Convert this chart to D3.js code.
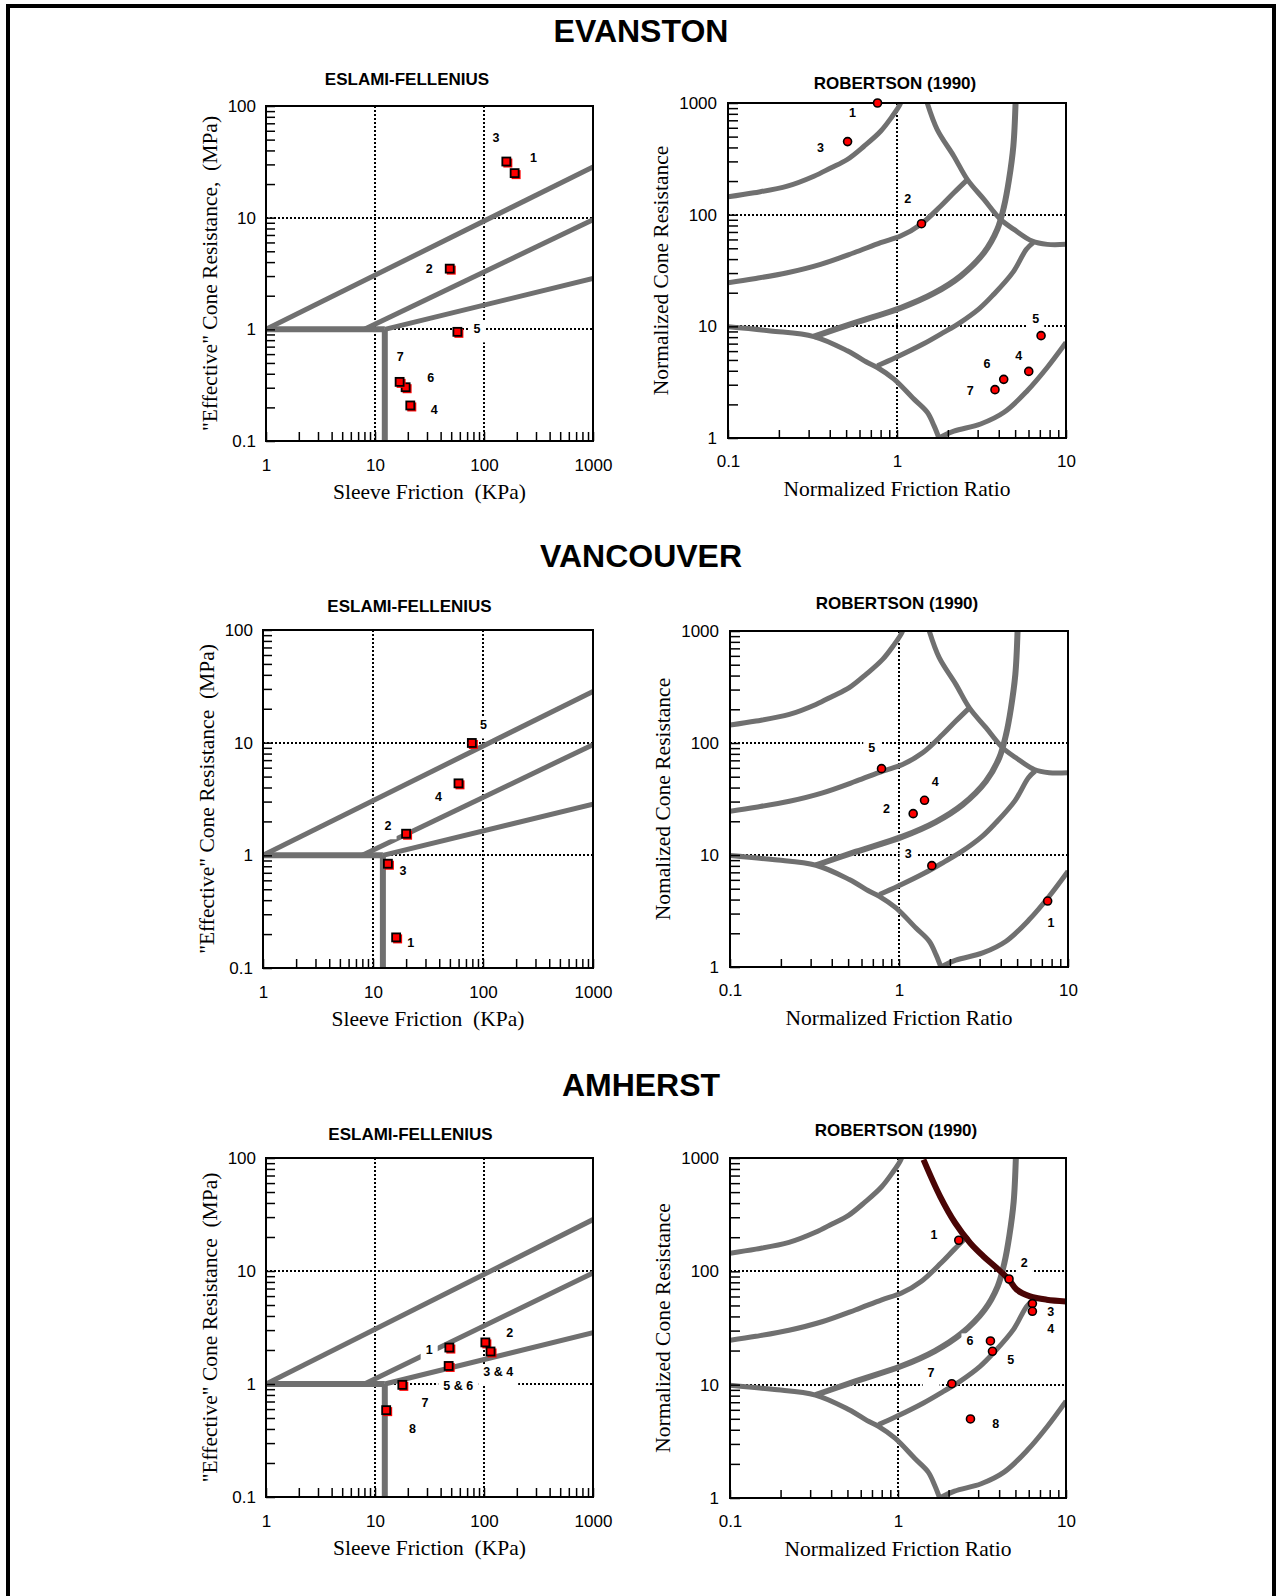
<!DOCTYPE html>
<html>
<head>
<meta charset="utf-8">
<script src="https://cdn.jsdelivr.net/npm/d3@7"></script>
<style>
  body { margin: 0; background: #fff; }
  svg { display: block; }
  text { font-family: "Liberation Sans", Arial, sans-serif; }
  .serif { font-family: "Liberation Serif", "Times New Roman", serif; white-space: pre; }
</style>
</head>
<body>
<div id="chart"></div>
<script>
// axis ticks
const efXTicks = [1, 10, 100, 1000];
const efYTicks = [0.1, 1, 10, 100];
const efGridX = [10, 100];
const efGridY = [1, 10];
const rXTicks = [0.1, 1, 10];
const rYTicks = [1, 10, 100, 1000];
const rGridX = [1];
const rGridY = [10, 100];

const stations = ['EVANSTON', 'VANCOUVER', 'AMHERST'];

// Eslami-Fellenius zone boundaries [sleeve friction kPa, qE MPa]
const efBoundaries = [
  [[1, 1], [1000, 28.5]],
  [[8, 1], [1000, 9.6]],
  [[12.3, 1], [1000, 2.85]],
  [[1, 1], [12.3, 1]],
  [[12.3, 1], [12.3, 0.1]]
];

// Robertson (1990) zone boundaries [norm. friction ratio, norm. cone resistance]
const rCurve1 = [[0.1, 144.5], [0.1426, 157], [0.2244, 180], [0.3224, 221], [0.405, 262], [0.508, 312], [0.638, 410], [0.8, 558], [0.938, 760], [1.027, 933], [1.05, 1000]];
const rCurve2 = [[0.1, 24.6], [0.1426, 26.7], [0.2244, 30.2], [0.353, 35.9], [0.5565, 45.6], [0.8, 56.1], [1.05, 64.3], [1.38, 81.8], [1.81, 119], [2.17, 157], [2.61, 206]];
const rCurve3 = [[0.3224, 8.1], [0.5565, 10.7], [1.05, 14.6], [1.655, 19.8], [2.38, 28.2], [3.27, 45.6], [3.92, 73.8], [4.3, 119], [4.6, 206], [4.88, 410], [5.03, 1000]];
const rCurve4 = [[0.1, 9.9], [0.1787, 9.1], [0.3224, 8.1], [0.508, 6.04], [0.6675, 4.75], [0.765, 4.28], [0.96, 3.37], [1.26, 2.23], [1.51, 1.7], [1.655, 1.29], [1.77, 1.0]];
const rCurve5 = [[0.766, 4.44], [0.984, 5.26], [1.418, 6.9], [1.865, 8.73], [2.34, 10.7], [3.08, 14.5], [3.7, 19.05], [4.86, 30.6], [5.83, 49], [6.4, 56.2]];
const rCurve6 = [[1.51, 1000], [1.73, 578], [2.17, 334], [2.61, 206], [3.27, 137], [4.1, 90.7], [4.92, 73.8], [6.31, 58], [7.74, 54.2], [10, 54.2]];
const rCurve7 = [[1.77, 1.0], [2.17, 1.15], [3.125, 1.335], [4.3, 1.7], [5.9, 2.65], [7.74, 4.28], [10, 7.16]];
const amherstLimit = [[1.418, 967], [1.78, 459], [2.19, 267], [2.69, 178], [3.22, 136], [3.87, 107], [4.58, 84.4], [5.09, 68.9], [6.11, 60.2], [7.67, 56.2], [10, 54.3]];

// points: n = label, x/y = value, lx/ly = where the label sits
const evanstonEF = [
  { n: '1', x: 193, y: 24.8, lx: 285, ly: 34.5 },
  { n: '2', x: 49, y: 3.46, lx: 31.4, ly: 3.5 },
  { n: '3', x: 162, y: 31.5, lx: 129, ly: 52 },
  { n: '4', x: 21.3, y: 0.206, lx: 34.9, ly: 0.192 },
  { n: '5', x: 57.6, y: 0.94, lx: 86, ly: 1.02 },
  { n: '6', x: 19.3, y: 0.3, lx: 32.5, ly: 0.371 },
  { n: '7', x: 17, y: 0.335, lx: 17, ly: 0.568 }
];
const evanstonR = [
  { n: '1', x: 0.767, y: 1000, lx: 0.546, ly: 819 },
  { n: '2', x: 1.396, y: 83, lx: 1.159, ly: 141 },
  { n: '3', x: 0.51, y: 451, lx: 0.353, ly: 398 },
  { n: '4', x: 6.02, y: 3.95, lx: 5.25, ly: 5.5 },
  { n: '5', x: 7.12, y: 8.25, lx: 6.62, ly: 11.7 },
  { n: '6', x: 4.28, y: 3.35, lx: 3.41, ly: 4.63 },
  { n: '7', x: 3.8, y: 2.71, lx: 2.71, ly: 2.64 }
];
const vancouverEF = [
  { n: '1', x: 16.4, y: 0.185, lx: 22, ly: 0.167 },
  { n: '2', x: 20.2, y: 1.54, lx: 13.7, ly: 1.85 },
  { n: '3', x: 13.8, y: 0.834, lx: 18.7, ly: 0.728 },
  { n: '4', x: 60.5, y: 4.31, lx: 39.3, ly: 3.31 },
  { n: '5', x: 80, y: 9.84, lx: 101, ly: 14.5 }
];
const vancouverR = [
  { n: '1', x: 7.58, y: 3.88, lx: 7.93, ly: 2.49 },
  { n: '2', x: 1.213, y: 23.4, lx: 0.843, ly: 25.9 },
  { n: '3', x: 1.564, y: 8.03, lx: 1.133, ly: 10.3 },
  { n: '4', x: 1.416, y: 30.8, lx: 1.637, ly: 45.5 },
  { n: '5', x: 0.788, y: 59, lx: 0.69, ly: 90.9 }
];
const amherstEF = [
  { n: '1', x: 48.6, y: 2.08, lx: 31.4, ly: 2.04 },
  { n: '2', x: 104, y: 2.31, lx: 172, ly: 2.83 },
  { n: '3 & 4', x: 116, y: 1.92, lx: 135, ly: 1.29 },
  { n: '5 & 6', x: 47.9, y: 1.43, lx: 58, ly: 0.966 },
  { n: '7', x: 18.0, y: 0.973, lx: 28.7, ly: 0.68 },
  { n: '8', x: 12.8, y: 0.581, lx: 22.1, ly: 0.40 }
];
const amherstR = [
  { n: '1', x: 2.3, y: 188, lx: 1.64, ly: 211 },
  { n: '2', x: 4.58, y: 85.6, lx: 5.65, ly: 118.6 },
  { n: '3', x: 6.31, y: 51.9, lx: 8.11, ly: 43.8 },
  { n: '4', x: 6.31, y: 44.4, lx: 8.11, ly: 31 },
  { n: '5', x: 3.65, y: 19.7, lx: 4.69, ly: 16.6 },
  { n: '6', x: 3.55, y: 24.3, lx: 2.68, ly: 24.6 },
  { n: '7', x: 2.09, y: 10.2, lx: 1.574, ly: 12.7 },
  { n: '8', x: 2.7, y: 4.98, lx: 3.82, ly: 4.53 }
];

const GRAY = '#707070';
const W = 1276, H = 1596;

const svg = d3.select('#chart').append('svg')
  .attr('width', W)
  .attr('height', H);

// page border (open at the bottom)
svg.append('path')
  .attr('d', `M8,${H} V6 H1274 V${H}`)
  .attr('fill', 'none')
  .attr('stroke', '#000')
  .attr('stroke-width', 4);

const rowTitleY = [41.5, 567, 1096];
stations.forEach((s, i) => {
  svg.append('text')
    .attr('x', 641)
    .attr('y', rowTitleY[i])
    .attr('text-anchor', 'middle')
    .attr('font-size', '32px')
    .attr('font-weight', 'bold')
    .text(s);
});

let clipCount = 0;

function drawPanel(o) {
  const f = o.frame;
  const x = d3.scaleLog().domain(o.xDomain).range([f.x0, f.x1]);
  const y = d3.scaleLog().domain(o.yDomain).range([f.y1, f.y0]);
  const g = svg.append('g');
  const clipId = 'clip' + (clipCount++);

  g.append('clipPath').attr('id', clipId)
    .append('rect')
    .attr('x', f.x0).attr('y', f.y0)
    .attr('width', f.x1 - f.x0).attr('height', f.y1 - f.y0);

  // title
  g.append('text')
    .attr('x', o.titleX)
    .attr('y', o.titleY)
    .attr('text-anchor', 'middle')
    .attr('font-size', '17px')
    .attr('font-weight', 'bold')
    .text(o.title);

  // dotted grid
  const grid = g.append('g')
    .attr('stroke', '#000')
    .attr('stroke-width', 1.6)
    .attr('stroke-dasharray', '2,2')
    .attr('shape-rendering', 'crispEdges');
  o.gridX.forEach(v => {
    const px = Math.round(x(v));
    grid.append('line').attr('x1', px).attr('x2', px).attr('y1', f.y0).attr('y2', f.y1);
  });
  o.gridY.forEach(v => {
    const py = Math.round(y(v));
    grid.append('line').attr('x1', f.x0).attr('x2', f.x1).attr('y1', py).attr('y2', py);
  });

  // zone boundaries
  const lines = g.append('g').attr('clip-path', `url(#${clipId})`);
  o.lines.forEach(l => {
    const line = d3.line()
      .x(d => x(d[0]))
      .y(d => y(d[1]))
      .curve(l.pts.length > 2 ? d3.curveCatmullRom.alpha(0.5) : d3.curveLinear);
    lines.append('path')
      .attr('d', line(l.pts))
      .attr('fill', 'none')
      .attr('stroke', l.color || GRAY)
      .attr('stroke-width', l.width || 5)
      .attr('stroke-linejoin', 'round');
  });

  // frame
  g.append('rect')
    .attr('x', f.x0).attr('y', f.y0)
    .attr('width', f.x1 - f.x0).attr('height', f.y1 - f.y0)
    .attr('fill', 'none')
    .attr('stroke', '#000')
    .attr('stroke-width', 2);

  // inward ticks
  const bx = g.append('g')
    .attr('transform', `translate(0,${f.y1})`)
    .call(d3.axisBottom(x).tickValues(x.ticks()).tickSize(-o.tickLenX).tickFormat(''));
  const ly = g.append('g')
    .attr('transform', `translate(${f.x0},0)`)
    .call(d3.axisLeft(y).tickValues(y.ticks()).tickSize(-o.tickLenY).tickFormat(''));
  [bx, ly].forEach(a => {
    a.select('.domain').remove();
    a.selectAll('line').attr('stroke', '#000').attr('stroke-width', 1.5);
  });

  // tick labels
  const xl = g.append('g')
    .attr('transform', `translate(0,${f.y1})`)
    .call(d3.axisBottom(x).tickValues(o.xTicks).tickSize(0).tickPadding(o.xPad).tickFormat(d => String(d)));
  const yl = g.append('g')
    .attr('transform', `translate(${f.x0},0)`)
    .call(d3.axisLeft(y).tickValues(o.yTicks).tickSize(0).tickPadding(o.yPad).tickFormat(d => String(d)));
  [xl, yl].forEach(a => {
    a.select('.domain').remove();
    a.selectAll('text')
      .attr('font-size', '17px')
      .attr('font-family', '"Liberation Sans", Arial, sans-serif')
      .attr('fill', '#000');
  });

  // axis titles
  g.append('text')
    .attr('class', 'serif')
    .attr('x', (f.x0 + f.x1) / 2)
    .attr('y', f.y1 + 58)
    .attr('text-anchor', 'middle')
    .attr('font-size', '21.5px')
    .text(o.xLabel);
  g.append('text')
    .attr('class', 'serif')
    .attr('transform', `translate(${f.x0 - o.yLabelOff},${(f.y0 + f.y1) / 2}) rotate(-90)`)
    .attr('text-anchor', 'middle')
    .attr('font-size', '21.5px')
    .text(o.yLabel);

  // point labels with white boxes
  const labels = g.append('g');
  o.points.forEach(p => {
    const lg = labels.append('g');
    const t = lg.append('text')
      .attr('x', x(p.lx))
      .attr('y', y(p.ly))
      .attr('dy', '0.36em')
      .attr('text-anchor', 'middle')
      .attr('font-size', '12.5px')
      .attr('font-weight', 'bold')
      .text(p.n);
    const bb = t.node().getBBox();
    lg.insert('rect', 'text')
      .attr('x', bb.x - 5)
      .attr('y', y(p.ly) - 7)
      .attr('width', bb.width + 10)
      .attr('height', 21)
      .attr('fill', '#fff');
  });

  // markers
  const marks = g.append('g');
  o.points.forEach(p => {
    const cx = x(p.x), cy = y(p.y);
    if (o.marker === 'square') {
      marks.append('rect')
        .attr('x', cx - 3.5).attr('y', cy - 3.5)
        .attr('width', 9).attr('height', 9)
        .attr('fill', '#ff0000');
      marks.append('rect')
        .attr('x', cx - 4.5).attr('y', cy - 4.5)
        .attr('width', 8).attr('height', 8)
        .attr('fill', '#ff0000')
        .attr('stroke', '#000')
        .attr('stroke-width', 1.8);
    } else {
      marks.append('circle')
        .attr('cx', cx).attr('cy', cy)
        .attr('r', 4)
        .attr('fill', '#ff0000')
        .attr('stroke', '#000')
        .attr('stroke-width', 1.6);
    }
  });
}

const efFrames = [
  { x0: 266, x1: 593, y0: 106, y1: 441 },
  { x0: 263, x1: 593, y0: 630, y1: 968 },
  { x0: 266, x1: 593, y0: 1158, y1: 1497 }
];
const rFrames = [
  { x0: 728, x1: 1066, y0: 103, y1: 438 },
  { x0: 730, x1: 1068, y0: 631, y1: 967 },
  { x0: 730, x1: 1066, y0: 1158, y1: 1498 }
];
const efTitlePos = [[407, 85], [409.5, 612], [410.5, 1140]];
const rTitlePos = [[895, 89], [897, 609], [896, 1136]];

const efPoints = [evanstonEF, vancouverEF, amherstEF];
const rPoints = [evanstonR, vancouverR, amherstR];
const efYLabels = ['"Effective" Cone Resistance,  (MPa)', '"Effective" Cone Resistance  (MPa)', '"Effective" Cone Resistance  (MPa)'];
const rYLabels = ['Normalized Cone Resistance', 'Nomalized Cone Resistance', 'Normalized Cone Resistance'];

for (let i = 0; i < 3; i++) {
  drawPanel({
    frame: efFrames[i],
    xDomain: [1, 1000], yDomain: [0.1, 100],
    xTicks: efXTicks, yTicks: efYTicks,
    gridX: efGridX, gridY: efGridY,
    lines: efBoundaries.map((pts, k) => ({ pts, width: k >= 3 ? 6 : 5 })),
    points: efPoints[i],
    marker: 'square',
    title: 'ESLAMI-FELLENIUS',
    titleX: efTitlePos[i][0], titleY: efTitlePos[i][1],
    xLabel: 'Sleeve Friction  (KPa)',
    yLabel: efYLabels[i],
    yLabelOff: 49,
    tickLenX: 9, tickLenY: 9,
    xPad: 18, yPad: 10
  });

  const rLines = [rCurve1, rCurve2, rCurve4, rCurve5, rCurve7].map(pts => ({ pts }));
  rLines.push({ pts: rCurve3, width: 6 });
  if (i === 2) {
    rLines.push({ pts: amherstLimit, color: '#4a0505', width: 6 });
  } else {
    rLines.push({ pts: rCurve6 });
  }

  drawPanel({
    frame: rFrames[i],
    xDomain: [0.1, 10], yDomain: [1, 1000],
    xTicks: rXTicks, yTicks: rYTicks,
    gridX: rGridX, gridY: rGridY,
    lines: rLines,
    points: rPoints[i],
    marker: 'circle',
    title: 'ROBERTSON (1990)',
    titleX: rTitlePos[i][0], titleY: rTitlePos[i][1],
    xLabel: 'Normalized Friction Ratio',
    yLabel: rYLabels[i],
    yLabelOff: 60,
    tickLenX: 8, tickLenY: 10,
    xPad: 17, yPad: 11
  });
}
</script>
</body>
</html>
